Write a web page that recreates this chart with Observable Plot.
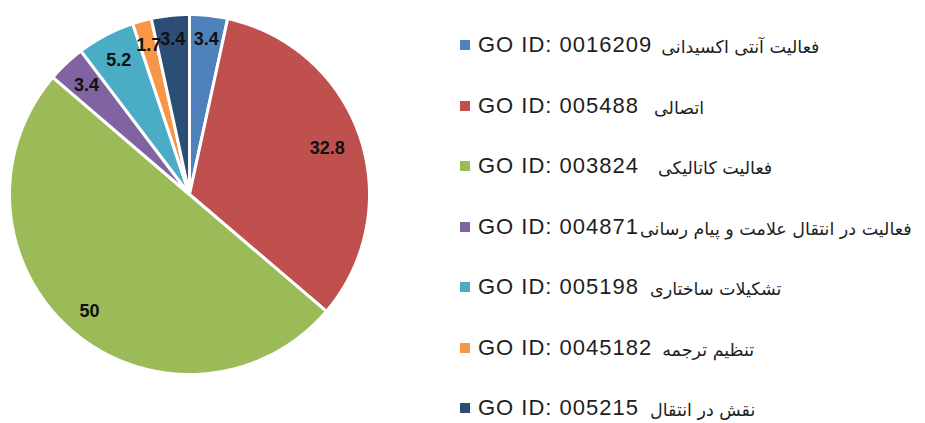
<!DOCTYPE html>
<html>
<head>
<meta charset="utf-8">
<script src="https://cdn.jsdelivr.net/npm/d3@7"></script>
<script src="https://cdn.jsdelivr.net/npm/@observablehq/plot@0.6"></script>
<style>
  html, body { margin: 0; padding: 0; background: #fff; }
  #wrap { position: relative; width: 925px; height: 423px; overflow: hidden; }
  #legend { position: absolute; left: 460px; top: 15px; }
  .row { display: flex; align-items: center; height: 60.5px; white-space: nowrap; }
  .sw { width: 10px; height: 10px; margin-right: 8px; flex: none; }
  .go { font-family: "Liberation Sans", Arial, sans-serif; font-size: 22px; letter-spacing: 1px; color: #1e1e1e; unicode-bidi: isolate; }
  .fa { font-family: "DejaVu Sans", sans-serif; font-size: 17.5px; color: #1e1e1e; unicode-bidi: isolate; position: relative; top: 2px; }
</style>
</head>
<body>
<div id="wrap"><div id="legend"></div></div>
<script>
const goIds = ["GO ID: 0016209", "GO ID: 005488", "GO ID: 003824", "GO ID: 004871", "GO ID: 005198", "GO ID: 0045182", "GO ID: 005215"];
const names = ["فعالیت آنتی اکسیدانی", "اتصالی", "فعالیت کاتالیکی", "فعالیت در انتقال علامت و پیام رسانی", "تشکیلات ساختاری", "تنظیم ترجمه", "نقش در انتقال"];
const values = [3.4, 32.8, 50, 3.4, 5.2, 1.7, 3.4];
const colors = ["#4F81BD", "#C0504D", "#9BBB59", "#8064A2", "#4BACC6", "#F79646", "#2C4D75"];
const gaps = [9, 15, 19, 1, 11, 10, 11];

const arcs = d3.pie().sort(null).value(d => d)(values);

// slice outlines (unit circle coords; angle clockwise from top)
const slicePts = [];
arcs.forEach((a, i) => {
  slicePts.push({k: i, x: 0, y: 0});
  const n = Math.max(4, Math.ceil((a.endAngle - a.startAngle) / 0.01));
  for (let j = 0; j <= n; j++) {
    const t = a.startAngle + (a.endAngle - a.startAngle) * j / n;
    slicePts.push({k: i, x: Math.sin(t), y: Math.cos(t)});
  }
});

// labels: "inside end" placement
const R = 180, hh = 10, pad = 12, charW = 10.2;
const labels = arcs.map((a, i) => {
  const t = (a.startAngle + a.endAngle) / 2;
  const txt = String(values[i]);
  const hw = txt.length * charW / 2;
  const ext = Math.abs(Math.sin(t)) * hw + Math.abs(Math.cos(t)) * hh;
  const r = (R - ext - pad) / R;
  return {k: i, text: txt, x: Math.sin(t) * r, y: Math.cos(t) * r};
});

const chart = Plot.plot({
  width: 925,
  height: 423,
  margin: 0,
  x: {domain: [-1, 1], range: [9, 369], axis: null},
  y: {domain: [-1, 1], range: [374, 14], axis: null},
  color: {type: "ordinal", domain: d3.range(values.length), range: colors},
  marks: [
    Plot.line(slicePts, {x: "x", y: "y", z: "k", fill: "k", stroke: "white", strokeWidth: 3, curve: "linear-closed", strokeLinejoin: "round"}),
    Plot.text(labels, {x: "x", y: "y", text: "text", fill: "#111", fontSize: 18, fontWeight: "bold", fontFamily: "Liberation Sans, Arial, sans-serif"})
  ]
});
document.getElementById("wrap").prepend(chart);

const legend = document.getElementById("legend");
goIds.forEach((g, i) => {
  const row = document.createElement("div");
  row.className = "row";
  const sw = document.createElement("span");
  sw.className = "sw";
  sw.style.background = colors[i];
  const go = document.createElement("span");
  go.className = "go";
  go.dir = "ltr";
  go.textContent = g;
  const fa = document.createElement("span");
  fa.className = "fa";
  fa.dir = "rtl";
  fa.style.marginLeft = gaps[i] + "px";
  fa.textContent = names[i];
  row.append(sw, go, fa);
  legend.append(row);
});
</script>
</body>
</html>
